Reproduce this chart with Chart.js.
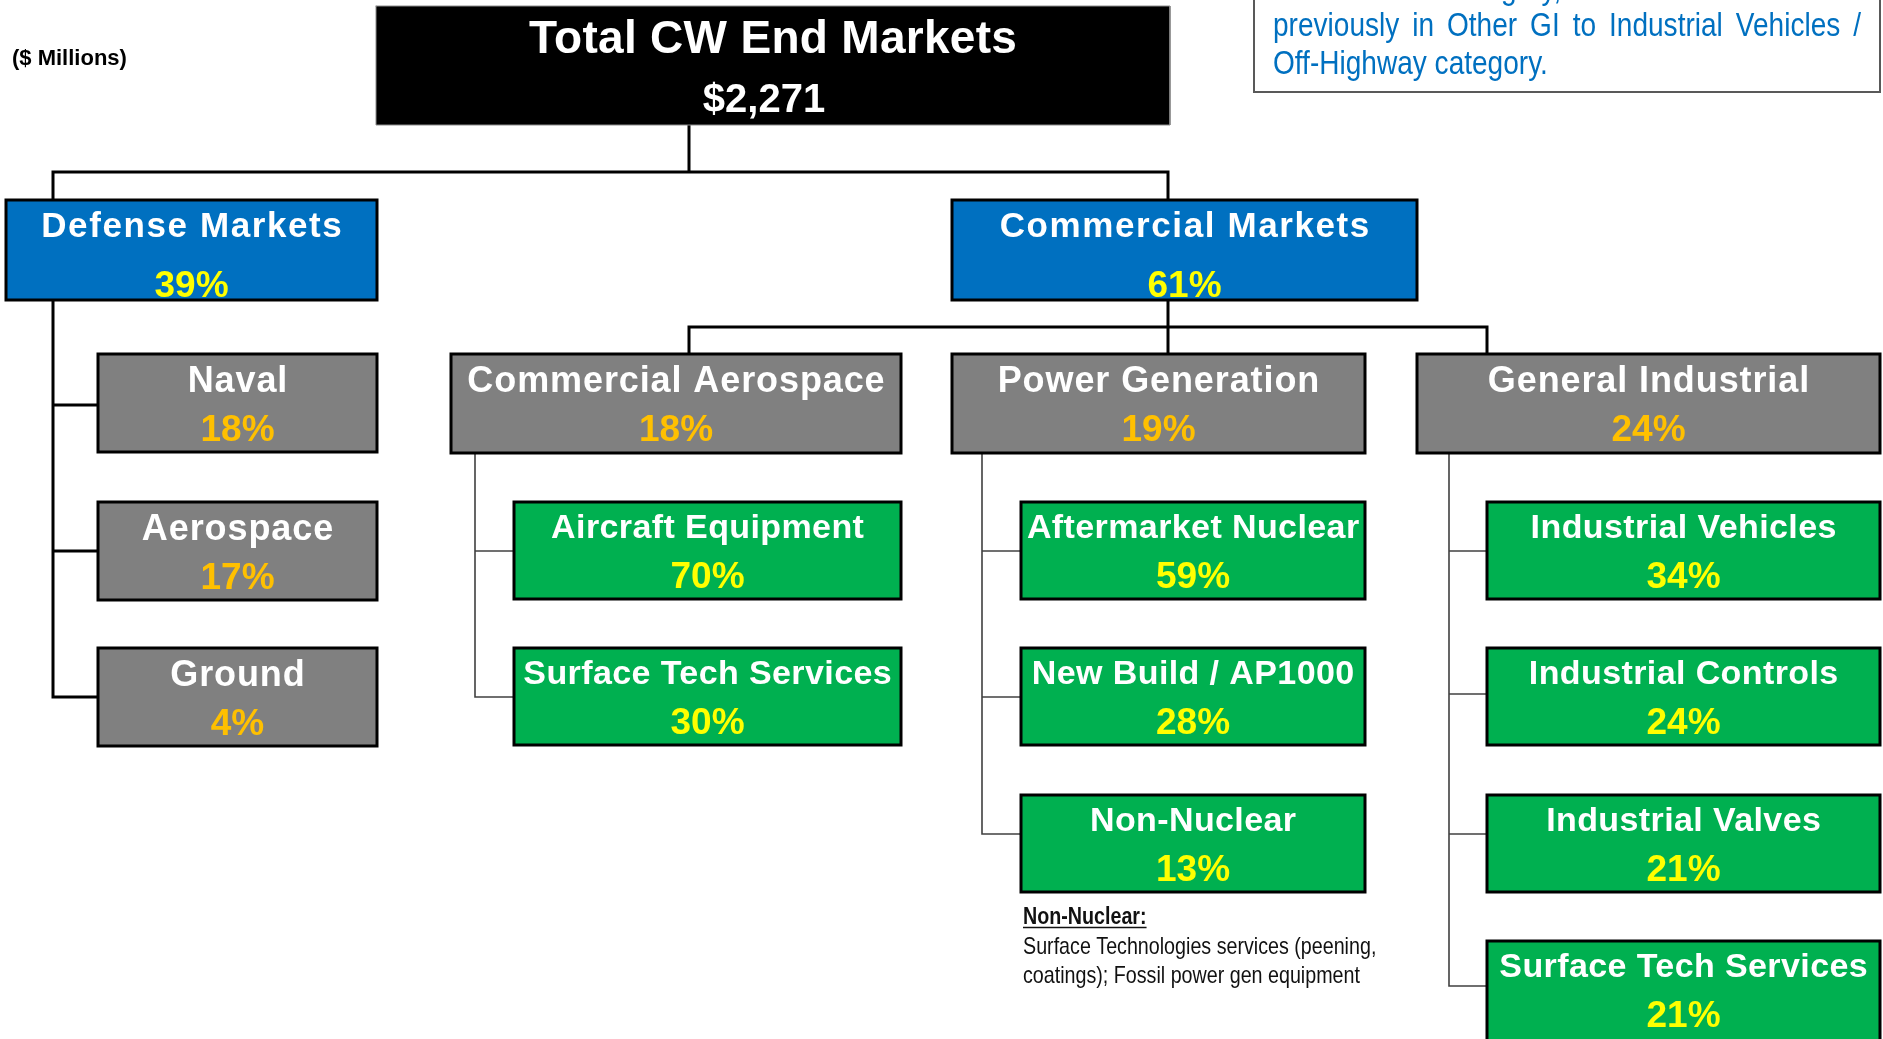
<!DOCTYPE html>
<html>
<head>
<meta charset="utf-8">
<title>Total CW End Markets</title>
<script src="https://cdn.jsdelivr.net/npm/chart.js@4.4.1/dist/chart.umd.min.js"></script>
<style>
  html, body { margin: 0; padding: 0; background: #fff; overflow: hidden; }
  #wrap { position: relative; width: 1883px; height: 1039px; }
</style>
</head>
<body>
<div id="wrap"><canvas id="chart"></canvas></div>
<script>
// Values
const rootName = 'Total CW End Markets';
const rootTotal = '$2,271';
const unitsNote = '($ Millions)';
const segmentNames = ['Defense Markets', 'Commercial Markets'];
const segmentShares = [39, 61];
const defenseNames = ['Naval', 'Aerospace', 'Ground'];
const defenseShares = [18, 17, 4];
const commercialNames = ['Commercial Aerospace', 'Power Generation', 'General Industrial'];
const commercialShares = [18, 19, 24];
const aerospaceNames = ['Aircraft Equipment', 'Surface Tech Services'];
const aerospaceShares = [70, 30];
const powerNames = ['Aftermarket Nuclear', 'New Build / AP1000', 'Non-Nuclear'];
const powerShares = [59, 28, 13];
const industrialNames = ['Industrial Vehicles', 'Industrial Controls', 'Industrial Valves', 'Surface Tech Services'];
const industrialShares = [34, 24, 21, 21];
const noteLines = ['category,', 'previously in Other GI to Industrial Vehicles /', 'Off-Highway category.'];
const nonNuclearTitle = 'Non-Nuclear:';
const nonNuclearLines = ['Surface Technologies services (peening,', 'coatings); Fossil power gen equipment'];

// Page layout (pixel units of the 1883 x 1039 frame)
const W = 1883, H = 1039;
const BLUE = '#0070C0', GRAY = '#808080', GREEN = '#00B050';
const YELLOW = '#FFFF00', ORANGE = '#FFC000', NOTE_BLUE = '#0070C0';
const FONT = '"Liberation Sans", Arial, sans-serif';

const rowTops = [502, 648, 795, 941];
const rowMids = [551, 697, 834, 986];
const rowH = 97;

const nodes = [];
function addNode(x0, y0, x1, y1, fill, level, title, pct) {
  nodes.push({ x0, y0, x1, y1, fill, level, title, pct });
}
addNode(376, 6, 1170, 125, '#000000', 'root', rootName, rootTotal);
const segX = [[6, 377], [952, 1417]];
segmentNames.forEach((n, i) => addNode(segX[i][0], 200, segX[i][1], 300, BLUE, 'seg', n, segmentShares[i] + '%'));
const defTops = [354, 502, 648];
defenseNames.forEach((n, i) => addNode(98, defTops[i], 377, defTops[i] + 98, GRAY, 'mkt', n, defenseShares[i] + '%'));
const comX = [[451, 901], [952, 1365], [1417, 1880]];
commercialNames.forEach((n, i) => addNode(comX[i][0], 354, comX[i][1], 453, GRAY, 'mkt', n, commercialShares[i] + '%'));
aerospaceNames.forEach((n, i) => addNode(514, rowTops[i], 901, rowTops[i] + rowH, GREEN, 'sub', n, aerospaceShares[i] + '%'));
powerNames.forEach((n, i) => addNode(1021, rowTops[i], 1365, rowTops[i] + rowH, GREEN, 'sub', n, powerShares[i] + '%'));
industrialNames.forEach((n, i) => addNode(1487, rowTops[i], 1880, i === 3 ? 1050 : rowTops[i] + rowH, GREEN, 'sub', n, industrialShares[i] + '%'));

const textStyle = {
  root: { tSize: 46, tSp: 0.3, tOff: 47, pSize: 40, pOff: 106, pColor: '#FFFFFF', pDx: -9 },
  seg:  { tSize: 35, tSp: 1.6, tOff: 37, pSize: 37, pOff: 97, pColor: YELLOW, pDx: 0 },
  mkt:  { tSize: 36, tSp: 0.9, tOff: 38, pSize: 37, pOff: 87, pColor: ORANGE, pDx: 0 },
  sub:  { tSize: 34, tSp: 0.4, tOff: 36, pSize: 37, pOff: 86, pColor: YELLOW, pDx: 0 }
};

// connectors: [points, thick?]
const connectors = [
  [[[689, 125], [689, 172]], true],
  [[[53, 200], [53, 172], [1168, 172], [1168, 200]], true],
  [[[53, 300], [53, 697], [98, 697]], true],
  [[[53, 405], [98, 405]], true],
  [[[53, 551], [98, 551]], true],
  [[[1168, 300], [1168, 354]], true],
  [[[689, 354], [689, 327], [1487, 327], [1487, 354]], true],
  [[[475, 453], [475, rowMids[1]], [514, rowMids[1]]], false],
  [[[475, rowMids[0]], [514, rowMids[0]]], false],
  [[[982, 453], [982, rowMids[2]], [1021, rowMids[2]]], false],
  [[[982, rowMids[0]], [1021, rowMids[0]]], false],
  [[[982, rowMids[1]], [1021, rowMids[1]]], false],
  [[[1449, 453], [1449, rowMids[3]], [1487, rowMids[3]]], false],
  [[[1449, rowMids[0]], [1487, rowMids[0]]], false],
  [[[1449, rowMids[1] - 3], [1487, rowMids[1] - 3]], false],
  [[[1449, rowMids[2]], [1487, rowMids[2]]], false]
];

function rectPoints(x0, y0, x1, y1) {
  return [{ x: x0, y: y0 }, { x: x1, y: y0 }, { x: x1, y: y1 }, { x: x0, y: y1 }, { x: x0, y: y0 }];
}

const datasets = [];
nodes.forEach(n => {
  datasets.push({
    type: 'line',
    data: rectPoints(n.x0, n.y0, n.x1, n.y1),
    fill: 'shape',
    backgroundColor: n.fill,
    borderColor: n.level === 'root' ? '#8c8c8c' : '#000000',
    borderWidth: n.level === 'root' ? 1 : 3,
    borderJoinStyle: 'miter',
    borderCapStyle: 'square',
    pointRadius: 0,
    tension: 0,
    order: 0
  });
});
// note box in the top right corner
datasets.push({
  type: 'line',
  data: rectPoints(1254, -10, 1880, 92),
  fill: 'shape',
  backgroundColor: '#FFFFFF',
  borderColor: '#595959',
  borderWidth: 2,
  borderJoinStyle: 'miter',
  pointRadius: 0,
  order: 0
});
connectors.forEach(([pts, thick]) => {
  datasets.push({
    type: 'line',
    data: pts.map(p => ({ x: p[0], y: p[1] })),
    fill: false,
    borderColor: thick ? '#000000' : '#404040',
    borderWidth: thick ? 3 : 1.6,
    borderJoinStyle: 'miter',
    borderCapStyle: 'butt',
    pointRadius: 0,
    tension: 0,
    order: 1
  });
});

function drawText(ctx, text, x, y, o) {
  ctx.save();
  ctx.font = (o.bold ? 'bold ' : '') + o.size + 'px ' + FONT;
  ctx.fillStyle = o.color;
  ctx.textBaseline = 'alphabetic';
  ctx.textAlign = 'left';
  const sp = o.spacing || 0;
  ctx.letterSpacing = sp + 'px';
  const sx = o.squeeze || 1;
  const w = (ctx.measureText(text).width - sp) * sx;
  const left = o.align === 'left' ? x : x - w / 2;
  ctx.translate(left, y);
  ctx.scale(sx, 1);
  ctx.fillText(text, 0, 0);
  ctx.restore();
  return w;
}

function justify(ctx, text, x0, x1, y, o) {
  const words = text.split(' ');
  ctx.save();
  ctx.font = o.size + 'px ' + FONT;
  const widths = words.map(w => ctx.measureText(w).width * o.squeeze);
  ctx.restore();
  const total = widths.reduce((a, b) => a + b, 0);
  const gap = (x1 - x0 - total) / (words.length - 1);
  let x = x0;
  words.forEach((w, i) => {
    drawText(ctx, w, x, y, Object.assign({ align: 'left' }, o));
    x += widths[i] + gap;
  });
}

const textPlugin = {
  id: 'orgText',
  afterDatasetsDraw(chart) {
    const ctx = chart.ctx;
    const sx = v => chart.scales.x.getPixelForValue(v);
    const sy = v => chart.scales.y.getPixelForValue(v);
    nodes.forEach(n => {
      const st = textStyle[n.level];
      const cx = sx((n.x0 + n.x1) / 2);
      drawText(ctx, n.title, cx, sy(n.y0 + st.tOff), { bold: true, size: st.tSize, spacing: st.tSp, color: '#FFFFFF' });
      drawText(ctx, n.pct, cx + st.pDx, sy(n.y0 + st.pOff), { bold: true, size: st.pSize, color: st.pColor });
    });

    drawText(ctx, unitsNote, sx(12), sy(65), { bold: true, size: 22, color: '#000000', align: 'left' });

    // note box text (clipped at top of page)
    const noteStyle = { size: 33, squeeze: 0.85, color: NOTE_BLUE };
    drawText(ctx, noteLines[0], sx(1448), sy(-1), Object.assign({ align: 'left' }, noteStyle));
    justify(ctx, noteLines[1], sx(1273), sx(1861), sy(36), noteStyle);
    drawText(ctx, noteLines[2], sx(1273), sy(74), Object.assign({ align: 'left' }, noteStyle));

    // Non-Nuclear footnote
    const w = drawText(ctx, nonNuclearTitle, sx(1023), sy(924), { bold: true, size: 24, squeeze: 0.82, color: '#111111', align: 'left' });
    ctx.save();
    ctx.strokeStyle = '#111111';
    ctx.lineWidth = 1.5;
    ctx.beginPath();
    ctx.moveTo(sx(1023), sy(927.5));
    ctx.lineTo(sx(1023) + w, sy(927.5));
    ctx.stroke();
    ctx.restore();
    nonNuclearLines.forEach((line, i) => {
      drawText(ctx, line, sx(1023), sy(954 + i * 29), { size: 24, squeeze: 0.82, color: '#111111', align: 'left' });
    });
  }
};

new Chart(document.getElementById('chart'), {
  type: 'scatter',
  data: { datasets: datasets },
  options: {
    responsive: true,
    maintainAspectRatio: false,
    animation: false,
    events: [],
    layout: { padding: 0 },
    plugins: {
      legend: { display: false },
      tooltip: { enabled: false }
    },
    scales: {
      x: { type: 'linear', min: 0, max: W, display: false },
      y: { type: 'linear', min: 0, max: H, reverse: true, display: false }
    }
  },
  plugins: [textPlugin]
});
</script>
</body>
</html>
